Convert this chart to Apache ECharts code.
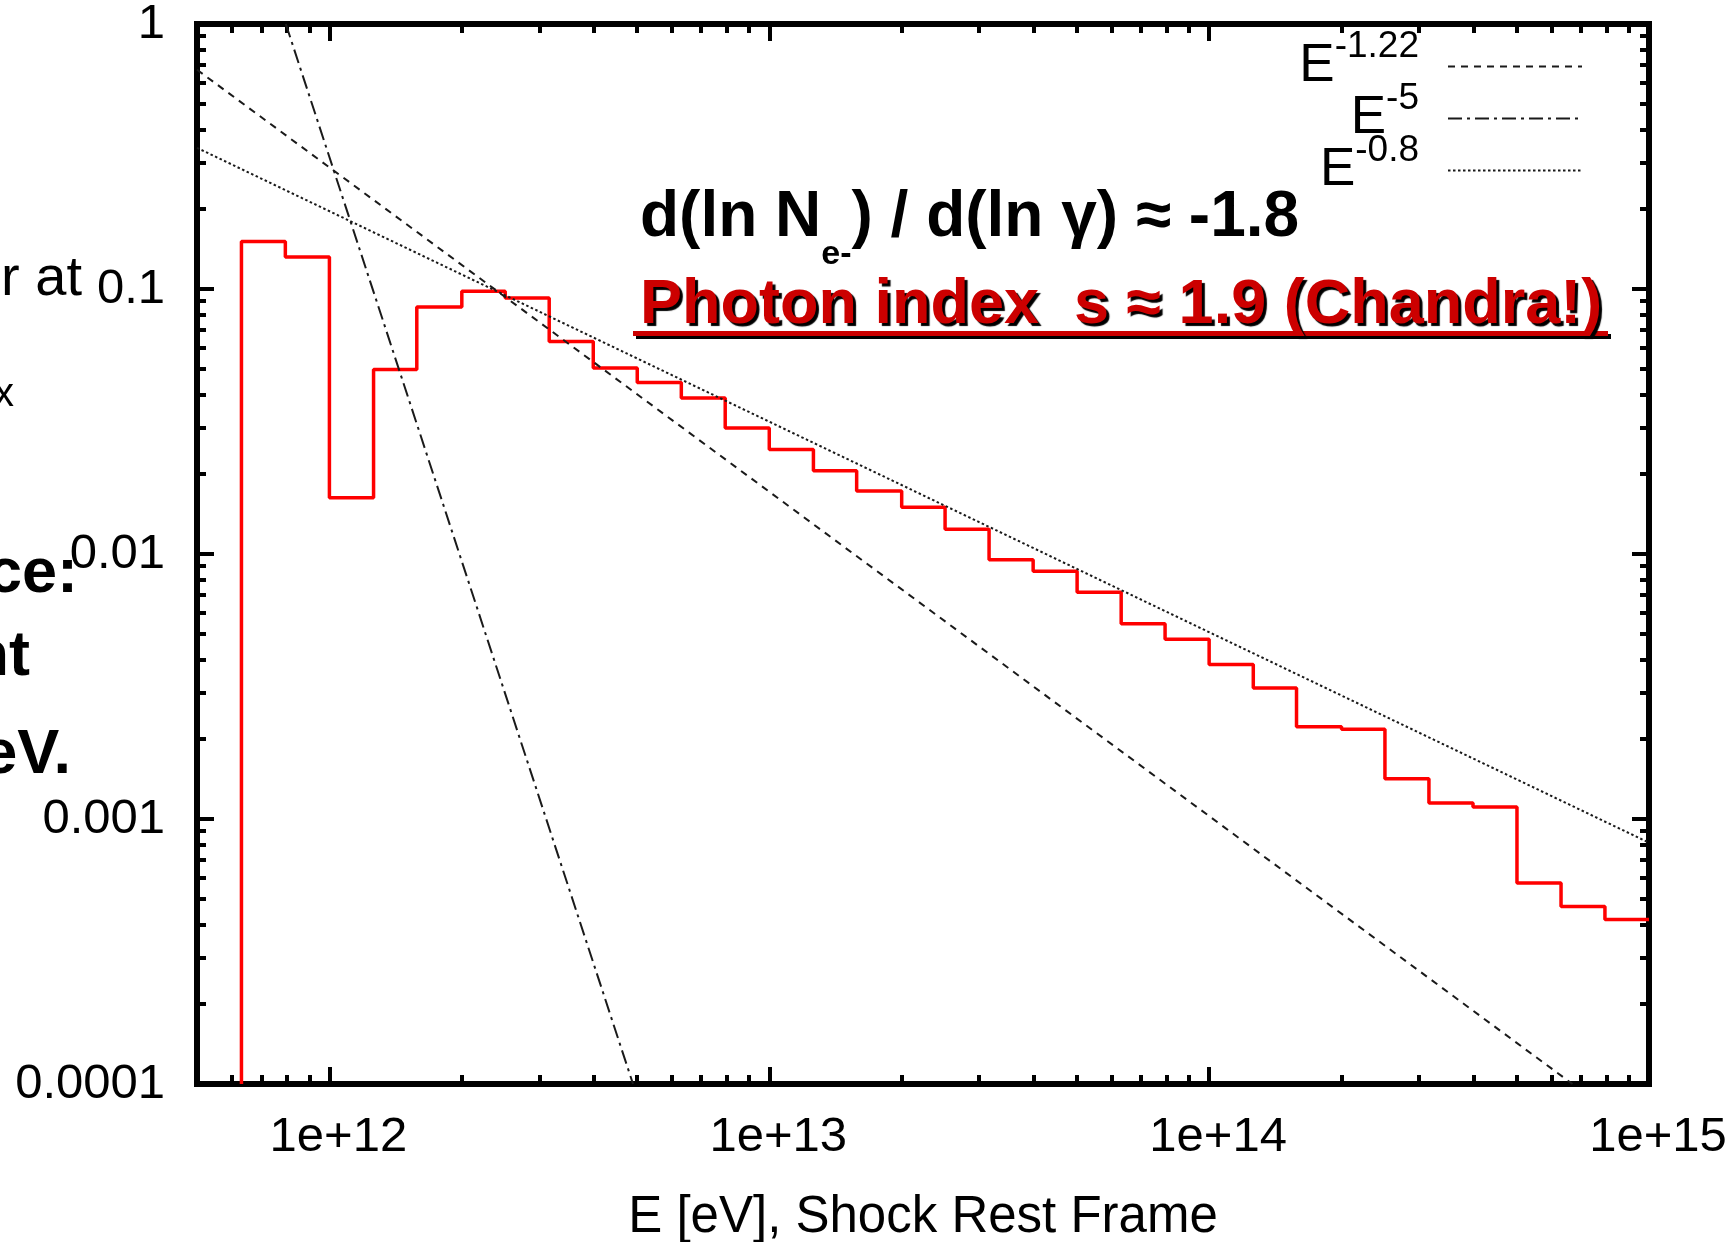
<!DOCTYPE html>
<html><head><meta charset="utf-8">
<script src="https://cdn.jsdelivr.net/npm/echarts@6/dist/echarts.min.js"></script>
<style>html,body{margin:0;padding:0;background:#fff}#c{width:1735px;height:1242px}</style>
</head><body><div id="c"></div><script>
const FONT = '"Liberation Sans", Arial, Helvetica, sans-serif';

// Histogram (red): bin edges in eV and bin heights
const binEdges = [6.31e11, 7.94e11, 1.0e12, 1.26e12, 1.58e12, 2.0e12, 2.51e12, 3.16e12, 3.98e12, 5.01e12, 6.31e12, 7.94e12,
  1.0e13, 1.26e13, 1.58e13, 2.0e13, 2.51e13, 3.16e13, 3.98e13, 5.01e13, 6.31e13, 7.94e13,
  1.0e14, 1.26e14, 1.58e14, 2.0e14, 2.51e14, 3.16e14, 3.98e14, 5.01e14, 6.31e14, 7.94e14, 1.0e15];
const binValues = [0.151, 0.132, 0.0163, 0.0497, 0.0855, 0.0980, 0.0925, 0.0634, 0.0503, 0.0444, 0.0388, 0.0299,
  0.0248, 0.0206, 0.0173, 0.0150, 0.0124, 0.00952, 0.00860, 0.00718, 0.00546, 0.00477,
  0.00383, 0.00312, 0.00223, 0.00218, 0.00142, 0.00115, 0.00111, 0.000573, 0.000468, 0.000418];

// Power-law guide lines (end points)
const fitE122 = [[5e11, 0.672], [6.7e14, 1e-4]];
const fitE5 = [[7.96e11, 1], [4.9e12, 1e-4]];
const fitE08 = [[5e11, 0.341], [1e15, 8.14e-4]];
const seriesNames = ['E^-1.22', 'E^-5', 'E^-0.8'];

// Axes
const xMin = 5e11, xMax = 1e15, yMin = 1e-4, yMax = 1;
const xTickValues = [1e12, 1e13, 1e14, 0.99999e15];
const xTickLabels = ['1e+12', '1e+13', '1e+14', '1e+15'];
const yTickValues = [1e-4, 1e-3, 1e-2, 0.1, 1];
const yTickLabels = ['0.0001', '0.001', '0.01', '0.1', '1'];
const minorMult = [2, 3, 4, 5, 6, 7, 8, 9];
const xMinor = [];
[1e11, 1e12, 1e13, 1e14].forEach(d => minorMult.forEach(m => { const v = m * d; if (v > xMin * 1.001 && v < xMax) xMinor.push(v); }));
const yMinor = [];
[1e-4, 1e-3, 1e-2, 1e-1].forEach(d => minorMult.forEach(m => yMinor.push(m * d)));

const xTitle = 'E [eV], Shock Rest Frame';

function lookup(vals, labels, v) {
  const i = vals.findIndex(t => Math.abs(Math.log10(t) - Math.log10(v)) < 1e-4);
  return i >= 0 ? labels[i] : '';
}

const histPoints = [[binEdges[0], yMin]];
for (let i = 0; i < binValues.length; i++) histPoints.push([binEdges[i], binValues[i]]);
histPoints.push([binEdges[binEdges.length - 1], binValues[binValues.length - 1]]);

const tickStyle = { color: '#000', width: 4 };
function xAx(pos, values, len, withLabels) {
  const a = {
    type: 'log', min: xMin, max: xMax, position: pos,
    axisLine: { show: false }, splitLine: { show: false }, minorTick: { show: false },
    axisTick: { show: true, inside: true, length: len, customValues: values, lineStyle: tickStyle },
    axisLabel: { show: false }
  };
  if (withLabels) {
    a.axisLabel = { show: true, customValues: xTickValues, margin: 29, color: '#000', fontSize: 49, fontFamily: FONT,
      padding: [0, 0, 0, 18], hideOverlap: false, showMinLabel: true, showMaxLabel: true,
      formatter: v => lookup(xTickValues, xTickLabels, v) };
    a.name = xTitle; a.nameLocation = 'middle'; a.nameGap = 108;
    a.nameTextStyle = { color: '#000', fontSize: 51, fontFamily: FONT };
  }
  return a;
}
function yAx(pos, values, len, withLabels) {
  const a = {
    type: 'log', min: yMin, max: yMax, position: pos,
    axisLine: { show: false }, splitLine: { show: false }, minorTick: { show: false },
    axisTick: { show: true, inside: true, length: len, customValues: values, lineStyle: tickStyle },
    axisLabel: { show: false }
  };
  if (withLabels) {
    a.axisLabel = { show: true, customValues: yTickValues, margin: 32, color: '#000', fontSize: 49, fontFamily: FONT,
      formatter: v => lookup(yTickValues, yTickLabels, v) };
  }
  return a;
}

const chart = echarts.init(document.getElementById('c'), null, { renderer: 'canvas' });
const lineCol = '#1a1a1a';
chart.setOption({
  animation: false,
  backgroundColor: '#fff',
  grid: { left: 197, right: 86, top: 24, bottom: 158, show: true, borderColor: '#000', borderWidth: 6,
    backgroundColor: 'transparent', containLabel: false, outerBoundsMode: 'none' },
  xAxis: [xAx('bottom', xTickValues, 17, true), xAx('bottom', xMinor, 9, false),
          xAx('top', xTickValues, 17, false), xAx('top', xMinor, 9, false)],
  yAxis: [yAx('left', yTickValues, 17, true), yAx('left', yMinor, 9, false),
          yAx('right', yTickValues, 17, false), yAx('right', yMinor, 9, false)],
  legend: {
    data: seriesNames, orient: 'vertical', align: 'right', right: 152, top: 28, padding: 0,
    itemWidth: 134, itemHeight: 14, itemGap: -13, selectedMode: false,
    itemStyle: { opacity: 0 },
    formatter: n => { const p = n.split('^'); return '{e|' + p[0] + '}{s|' + p[1] + '}{g| }'; },
    textStyle: { color: '#000', fontFamily: FONT,
      rich: {
        e: { fontSize: 53, lineHeight: 50, fontFamily: FONT, color: '#000' },
        s: { fontSize: 37, lineHeight: 10, height: 10, verticalAlign: 'top', fontFamily: FONT, color: '#000' },
        g: { width: 24, fontSize: 10, lineHeight: 10 }
      } }
  },
  series: [
    { name: 'spectrum', type: 'line', step: 'end', data: histPoints, symbol: 'none', silent: true,
      lineStyle: { color: '#ff0000', width: 3.5 }, itemStyle: { color: '#ff0000' } },
    { name: seriesNames[0], type: 'line', data: fitE122, symbol: 'none', silent: true,
      lineStyle: { color: lineCol, width: 2, type: [7, 6] }, itemStyle: { color: lineCol } },
    { name: seriesNames[1], type: 'line', data: fitE5, symbol: 'none', silent: true,
      lineStyle: { color: lineCol, width: 2, type: [14, 5, 3, 5] }, itemStyle: { color: lineCol } },
    { name: seriesNames[2], type: 'line', data: fitE08, symbol: 'none', silent: true,
      lineStyle: { color: lineCol, width: 2, type: [2.5, 2.5] }, itemStyle: { color: lineCol } }
  ],
  graphic: [
    { type: 'text', x: 640, y: 186, z: 100, style: {
      text: '{m|d(ln N}{b|e-}{m|) / d(ln γ) ≈ -1.8}', align: 'left', verticalAlign: 'top',
      rich: {
        m: { fontSize: 64, fontWeight: 'bold', fontFamily: FONT, lineHeight: 64, fill: '#000', color: '#000' },
        b: { fontSize: 34, fontWeight: 'bold', fontFamily: FONT, lineHeight: 10, height: 138, verticalAlign: 'top', fill: '#000', color: '#000' }
      } } },
    { type: 'rect', z: 98, shape: { x: 636, y: 334, width: 975, height: 5 }, style: { fill: '#000' } },
    { type: 'rect', z: 99, shape: { x: 633, y: 331, width: 975, height: 5 }, style: { fill: '#cc0000' } },
    { type: 'text', x: 640, y: 306, z: 100, style: {
      text: 'Photon index  s ≈ 1.9 (Chandra!)', align: 'left', verticalAlign: 'middle',
      fontSize: 63, fontWeight: 'bold', fontFamily: FONT, fill: '#cc0000',
      textShadowColor: '#000', textShadowOffsetX: 3, textShadowOffsetY: 3, textShadowBlur: 1 } },
    { type: 'text', x: 82, y: 280, style: { text: 'r at', align: 'right', verticalAlign: 'middle', fontSize: 56, fontFamily: FONT, fill: '#000' } },
    { type: 'text', x: 14, y: 395, style: { text: 'x', align: 'right', verticalAlign: 'middle', fontSize: 40, fontFamily: FONT, fill: '#000' } },
    { type: 'text', x: 78, y: 575, style: { text: 'ce:', align: 'right', verticalAlign: 'middle', fontSize: 63, fontWeight: 'bold', fontFamily: FONT, fill: '#000' } },
    { type: 'text', x: 30, y: 658, style: { text: 'nt', align: 'right', verticalAlign: 'middle', fontSize: 63, fontWeight: 'bold', fontFamily: FONT, fill: '#000' } },
    { type: 'text', x: 71, y: 756, style: { text: 'eV.', align: 'right', verticalAlign: 'middle', fontSize: 63, fontWeight: 'bold', fontFamily: FONT, fill: '#000' } }
  ]
});
</script></body></html>
